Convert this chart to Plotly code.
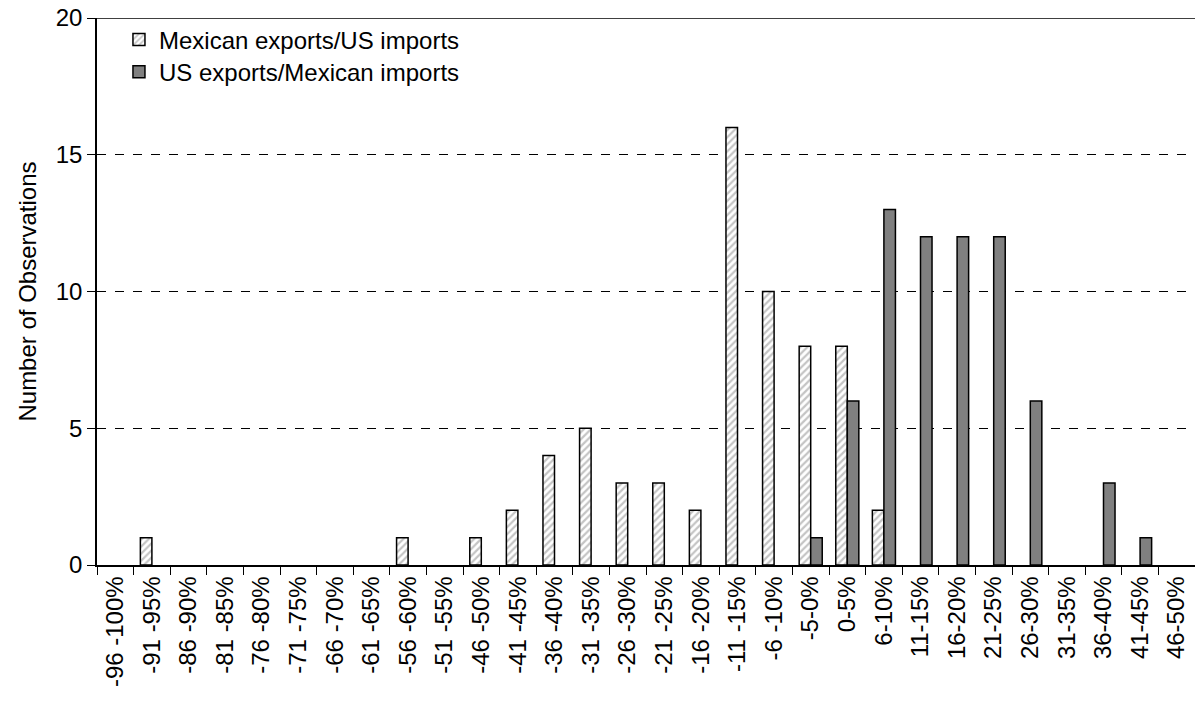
import plotly.graph_objects as go

categories = ["-96 -100%", "-91 -95%", "-86 -90%", "-81 -85%", "-76 -80%", "-71 -75%",
              "-66 -70%", "-61 -65%", "-56 -60%", "-51 -55%", "-46 -50%", "-41 -45%",
              "-36 -40%", "-31 -35%", "-26 -30%", "-21 -25%", "-16 -20%", "-11 -15%",
              "-6 -10%", "-5-0%", "0-5%", "6-10%", "11-15%", "16-20%", "21-25%",
              "26-30%", "31-35%", "36-40%", "41-45%", "46-50%"]
mexican_exports = [0, 1, 0, 0, 0, 0, 0, 0, 1, 0, 1, 2, 4, 5, 3, 3, 2, 16, 10, 8, 8, 2,
                   0, 0, 0, 0, 0, 0, 0, 0]
us_exports = [0, 0, 0, 0, 0, 0, 0, 0, 0, 0, 0, 0, 0, 0, 0, 0, 0, 0, 0, 1, 6, 13,
              12, 12, 12, 6, 0, 3, 1, 0]
y_ticks = [0, 5, 10, 15, 20]

FONT = "Liberation Sans, Arial, sans-serif"
FS = 24


def nz(vals):
    # zero counts are drawn as no bar at all (as in the reference)
    return [v if v else None for v in vals]


fig = go.Figure()
fig.add_trace(go.Bar(
    x=categories, y=nz(mexican_exports), name="Mexican exports/US imports",
    legend="legend",
    marker=dict(color="white", line=dict(color="black", width=1.5),
                pattern=dict(shape="/", fgcolor="#8a8a8a", bgcolor="white",
                             size=5, solidity=0.45)),
))
fig.add_trace(go.Bar(
    x=categories, y=nz(us_exports), name="US exports/Mexican imports",
    legend="legend2",
    marker=dict(color="#808080", line=dict(color="black", width=1.5)),
))

legend_common = dict(x=0.02, xanchor="left", yanchor="middle",
                     bgcolor="rgba(0,0,0,0)", font=dict(size=FS), itemwidth=30)

fig.update_layout(
    width=1195, height=704,
    margin=dict(l=97, r=0, t=18, b=139),
    paper_bgcolor="white", plot_bgcolor="white",
    barmode="group", bargap=0.37, bargroupgap=0,
    font=dict(family=FONT, size=FS, color="black"),
    legend=dict(y=0.96, **legend_common),
    legend2=dict(y=0.901, **legend_common),
    showlegend=True,
)
fig.update_xaxes(
    type="category", tickangle=-90, showline=True, linecolor="black", linewidth=1.5,
    ticks="outside", tickson="boundaries", ticklen=8, tickcolor="black",
    showgrid=False, tickfont=dict(size=FS), automargin=False,
)
fig.update_yaxes(
    range=[0, 20], tickvals=y_ticks, showline=True, linecolor="black", linewidth=1.5,
    ticks="outside", ticklen=8, tickcolor="black",
    showgrid=True, gridcolor="black", griddash="dash", gridwidth=1,
    title=dict(text="Number of Observations", font=dict(size=FS), standoff=12),
    tickfont=dict(size=FS), zeroline=False, automargin=False,
    ticklabeloverflow="allow",
)
fig.add_shape(type="line", xref="paper", yref="y", x0=0, x1=1, y0=20, y1=20,
              line=dict(color="black", width=1.5))

# remove the page's default body margin so the figure fills the window exactly
fig.write_html("out.html",
               config={"displayModeBar": False},
               post_script="document.body.style.margin='0';"
                           "document.body.style.overflow='hidden';")
